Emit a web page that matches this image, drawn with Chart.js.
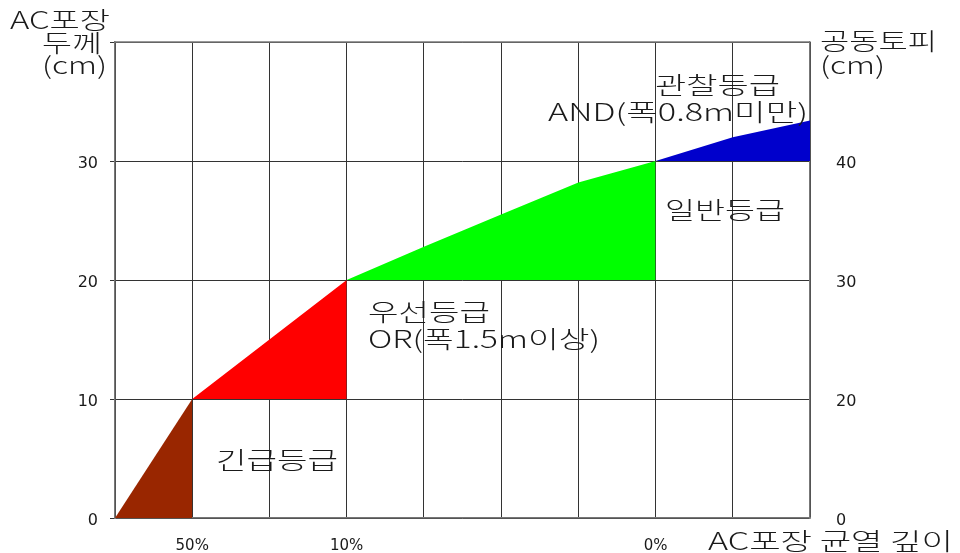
<!DOCTYPE html>
<html>
<head>
<meta charset="utf-8">
<script src="https://cdn.jsdelivr.net/npm/chart.js@4/dist/chart.umd.min.js"></script>
<style>
  html, body { margin: 0; padding: 0; background: #fff; }
  #wrap { width: 960px; height: 553px; position: relative; }
</style>
</head>
<body>
<div id="wrap"><canvas id="c"></canvas></div>
<script>
// 균열 깊이 구간 (x 눈금 0..9), 표시 라벨
var xTickLabels = ['', '50%', '', '10%', '', '', '', '0%', '', ''];
// 왼쪽 축: AC포장 두께, 오른쪽 축: 공동토피 (같은 격자선에 다른 라벨)
var leftTicks = [0, 10, 20, 30, 40];
var leftTickLabels = ['0', '10', '20', '30', ''];
var rightTickLabels = ['0', '20', '30', '40', ''];

// 등급별 영역 상단 경계 (x 위치, 두께 cm)
var urgentX = [0, 1],          urgentY = [0, 10];
var priorityX = [1, 2, 3],     priorityY = [10, 15, 20];
var normalX = [3, 4, 5, 6, 7], normalY = [20, 22.8, 25.5, 28.2, 30];
var watchX = [7, 8, 9],        watchY = [30, 32, 33.4];

var gradeNames = ['긴급등급', '우선등급', '일반등급', '관찰등급'];
var gradeBase = [0, 10, 20, 30];
var gradeColors = ['#992600', '#FF0000', '#00FF00', '#0000CC'];

function pts(xs, ys) {
    return xs.map(function (x, i) { return { x: x, y: ys[i] }; });
}
var series = [pts(urgentX, urgentY), pts(priorityX, priorityY), pts(normalX, normalY), pts(watchX, watchY)];

var FONT = "'DejaVu Sans', 'Noto Sans CJK KR', sans-serif";
var KFONT = "'Noto Sans CJK KR', sans-serif";
var TXT = '#1a1a1a';

// 글자 배치: 왼쪽 x, 폭(가로로 늘림), 가운데 y  — 원본의 넓은 굴림체 느낌
var labels = [
    { s: '관찰등급',        x: 655, w: 125, y: 85 },
    { s: 'AND(폭0.8m미만)', x: 548, w: 260, y: 112 },
    { s: '일반등급',        x: 665, w: 120, y: 210 },
    { s: '우선등급',        x: 368, w: 122, y: 312 },
    { s: 'OR(폭1.5m이상)',  x: 368, w: 232, y: 339 },
    { s: '긴급등급',        x: 216, w: 122, y: 460 },
    { s: 'AC포장',          x: 10,  w: 100, y: 20 },
    { s: '두께',            x: 42,  w: 60,  y: 43 },
    { s: '(cm)',            x: 42,  w: 65,  y: 65 },
    { s: '공동토피',        x: 820, w: 117, y: 41 },
    { s: '(cm)',            x: 820, w: 65,  y: 65 },
    { s: 'AC포장 균열 깊이', x: 708, w: 245, y: 541 }
];

var textPlugin = {
    id: 'texts',
    afterDraw: function (chart) {
        var ctx = chart.ctx;
        ctx.save();
        ctx.fillStyle = TXT;
        ctx.textBaseline = 'middle';
        ctx.textAlign = 'left';
        ctx.font = '300 24px ' + KFONT;
        labels.forEach(function (t) {
            var nat = ctx.measureText(t.s).width;
            ctx.save();
            ctx.translate(t.x, t.y);
            ctx.scale(t.w / nat, 1);
            ctx.fillText(t.s, 0, 0);
            ctx.restore();
        });
        ctx.restore();
    }
};

new Chart(document.getElementById('c'), {
    type: 'line',
    data: {
        datasets: series.map(function (d, i) {
            return {
                label: gradeNames[i], data: d,
                borderWidth: 0, borderColor: gradeColors[i],
                backgroundColor: gradeColors[i],
                pointRadius: 0, tension: 0,
                fill: { value: gradeBase[i] }
            };
        })
    },
    options: {
        responsive: true, maintainAspectRatio: false, animation: false,
        layout: { padding: { top: 42, left: 0, right: 0, bottom: 0 } },
        plugins: { legend: { display: false }, tooltip: { enabled: false } },
        scales: {
            x: {
                type: 'linear', min: 0, max: 9,
                afterFit: function (s) { s.height = 35; },
                ticks: {
                    stepSize: 1, padding: 19, autoSkip: false, maxRotation: 0,
                    color: TXT, font: { family: FONT, size: 15 },
                    callback: function (v) { return xTickLabels[v] || ''; }
                },
                grid: { color: '#333', lineWidth: 1, drawTicks: false },
                border: { color: '#777', width: 1.5 }
            },
            y: {
                position: 'left', min: 0, max: 40,
                afterBuildTicks: function (s) { s.ticks = leftTicks.map(function (v) { return { value: v }; }); },
                afterFit: function (s) { s.width = 115; },
                ticks: {
                    padding: 12, labelOffset: 3, color: TXT, font: { family: FONT, size: 16 },
                    callback: function (v) { return leftTickLabels[leftTicks.indexOf(v)]; }
                },
                grid: { color: '#333', lineWidth: 1, tickLength: 5 },
                border: { color: '#777', width: 1.5 }
            },
            y2: {
                position: 'right', min: 0, max: 40,
                afterBuildTicks: function (s) { s.ticks = leftTicks.map(function (v) { return { value: v }; }); },
                afterFit: function (s) { s.width = 150; },
                ticks: {
                    padding: 18, labelOffset: 3, color: TXT, font: { family: FONT, size: 16 },
                    callback: function (v) { return rightTickLabels[leftTicks.indexOf(v)]; }
                },
                grid: { display: false, drawOnChartArea: false },
                border: { color: '#777', width: 1.5 }
            }
        }
    },
    plugins: [textPlugin, {
        id: 'topframe',
        afterDraw: function (chart) {
            var a = chart.chartArea, ctx = chart.ctx;
            ctx.save();
            ctx.strokeStyle = '#777'; ctx.lineWidth = 1.5;
            ctx.beginPath(); ctx.moveTo(a.left, a.top); ctx.lineTo(a.right, a.top); ctx.stroke();
            ctx.restore();
        }
    }]
});
</script>
</body>
</html>
